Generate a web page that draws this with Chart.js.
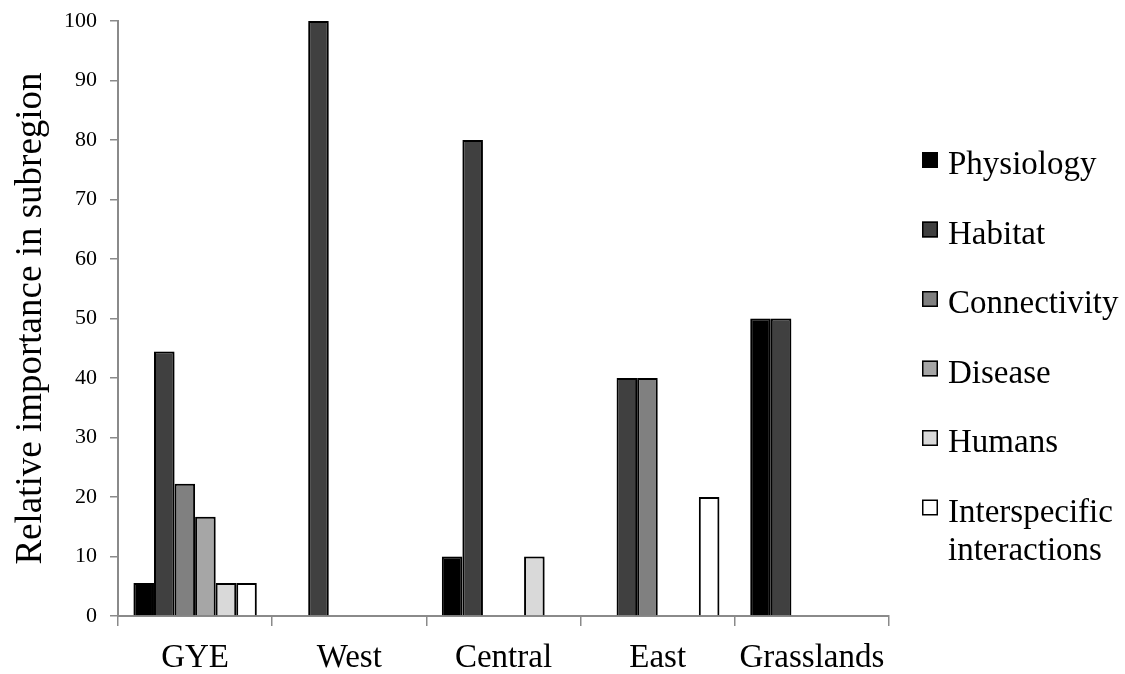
<!DOCTYPE html>
<html>
<head>
<meta charset="utf-8">
<script src="https://cdn.jsdelivr.net/npm/chart.js@4.4.1/dist/chart.umd.min.js"></script>
<style>
  html, body { margin: 0; padding: 0; background: #ffffff; }
  #wrap { width: 1125px; height: 674px; }
  canvas { display: block; }
</style>
</head>
<body>
<div id="wrap"><canvas id="chart" width="1125" height="674"></canvas></div>
<script>
// Subregions along the x axis
const regions = ['GYE', 'West', 'Central', 'East', 'Grasslands'];

// Relative importance (%) of each factor per subregion
const physiology    = [5.56, 0, 10, 0, 50];
const habitat       = [44.44, 100, 80, 40, 50];
const connectivity  = [22.22, 0, 0, 40, 0];
const disease       = [16.67, 0, 0, 0, 0];
const humans        = [5.56, 0, 10, 0, 0];
const interspecific = [5.56, 0, 0, 20, 0];

// Factor names (legend lines) and fills
const factorNames = [['Physiology'], ['Habitat'], ['Connectivity'], ['Disease'], ['Humans'], ['Interspecific', 'interactions']];
const factorFills = ['#000000', '#404040', '#808080', '#a6a6a6', '#d9d9d9', '#ffffff'];
const factorValues = [physiology, habitat, connectivity, disease, humans, interspecific];

// Y axis range and tick step
const yMin = 0, yMax = 100, yStep = 10;

const SERIF = '"Liberation Serif", "Times New Roman", serif';
const AXIS_GREY = '#8a8a8a';

// Soft drop shadow behind the bars
const barShadow = {
  id: 'barShadow',
  beforeDatasetsDraw(chart) {
    const ctx = chart.ctx;
    ctx.save();
    ctx.shadowColor = 'rgba(0,0,0,0.25)';
    ctx.shadowBlur = 4;
    ctx.shadowOffsetX = 2;
    ctx.shadowOffsetY = 1;
  },
  afterDatasetsDraw(chart) {
    chart.ctx.restore();
  }
};

// Vertical legend on the right with multi-line labels
const sideLegend = {
  id: 'sideLegend',
  afterDraw(chart) {
    const ctx = chart.ctx;
    const boxX = 922, firstTop = 152, rowStep = 69.5, box = 16;
    const textX = 948, lineGap = 38;
    ctx.save();
    ctx.font = '33px ' + SERIF;
    ctx.textBaseline = 'alphabetic';
    ctx.textAlign = 'left';
    chart.data.datasets.forEach((ds, i) => {
      const top = firstTop + i * rowStep;
      ctx.fillStyle = ds.backgroundColor;
      ctx.fillRect(boxX, top, box, box);
      ctx.lineWidth = 1.5;
      ctx.strokeStyle = '#000000';
      ctx.strokeRect(boxX + 0.75, top + 0.75, box - 1.5, box - 1.5);
      ctx.fillStyle = '#000000';
      factorNames[i].forEach((line, j) => {
        ctx.fillText(line, textX, top + 22 + j * lineGap);
      });
    });
    ctx.restore();
  }
};

function drawChart() {
  const datasets = factorValues.map((vals, i) => ({
    label: factorNames[i].join(' '),
    data: vals,
    backgroundColor: factorFills[i],
    borderColor: '#000000',
    borderWidth: 2,
    barPercentage: 1.0,
    categoryPercentage: 0.8
  }));

  new Chart(document.getElementById('chart'), {
    type: 'bar',
    data: { labels: regions, datasets: datasets },
    plugins: [barShadow, sideLegend],
    options: {
      responsive: false,
      animation: false,
      devicePixelRatio: 1,
      layout: { padding: { top: 21, right: 236, bottom: 0, left: 0 } },
      plugins: {
        legend: { display: false },
        tooltip: { enabled: false }
      },
      scales: {
        x: {
          offset: true,
          grid: { offset: true, drawOnChartArea: false, tickLength: 10, color: AXIS_GREY, lineWidth: 1.5 },
          border: { color: AXIS_GREY, width: 2 },
          ticks: { font: { family: SERIF, size: 33 }, color: '#000000', padding: 13, maxRotation: 0 },
          afterFit(scale) { scale.height = 58; }
        },
        y: {
          min: yMin,
          max: yMax,
          ticks: { stepSize: yStep, font: { family: SERIF, size: 22 }, color: '#000000', padding: 13 },
          grid: { drawOnChartArea: false, tickLength: 8, color: AXIS_GREY, lineWidth: 1.5 },
          border: { color: AXIS_GREY, width: 2 },
          title: {
            display: true,
            text: 'Relative importance in subregion',
            font: { family: SERIF, size: 37 },
            color: '#000000',
            padding: { top: 9, bottom: 0 }
          },
          afterFit(scale) {
            scale.width = 118;
            scale.paddingTop = 0;
            scale.paddingBottom = 0;
          }
        }
      }
    }
  });
}

// Make sure the serif face is ready before the canvas text is drawn
Promise.all([
  document.fonts.load('37px "Liberation Serif"'),
  document.fonts.load('33px "Liberation Serif"'),
  document.fonts.load('22px "Liberation Serif"')
]).then(drawChart, drawChart);
</script>
</body>
</html>
